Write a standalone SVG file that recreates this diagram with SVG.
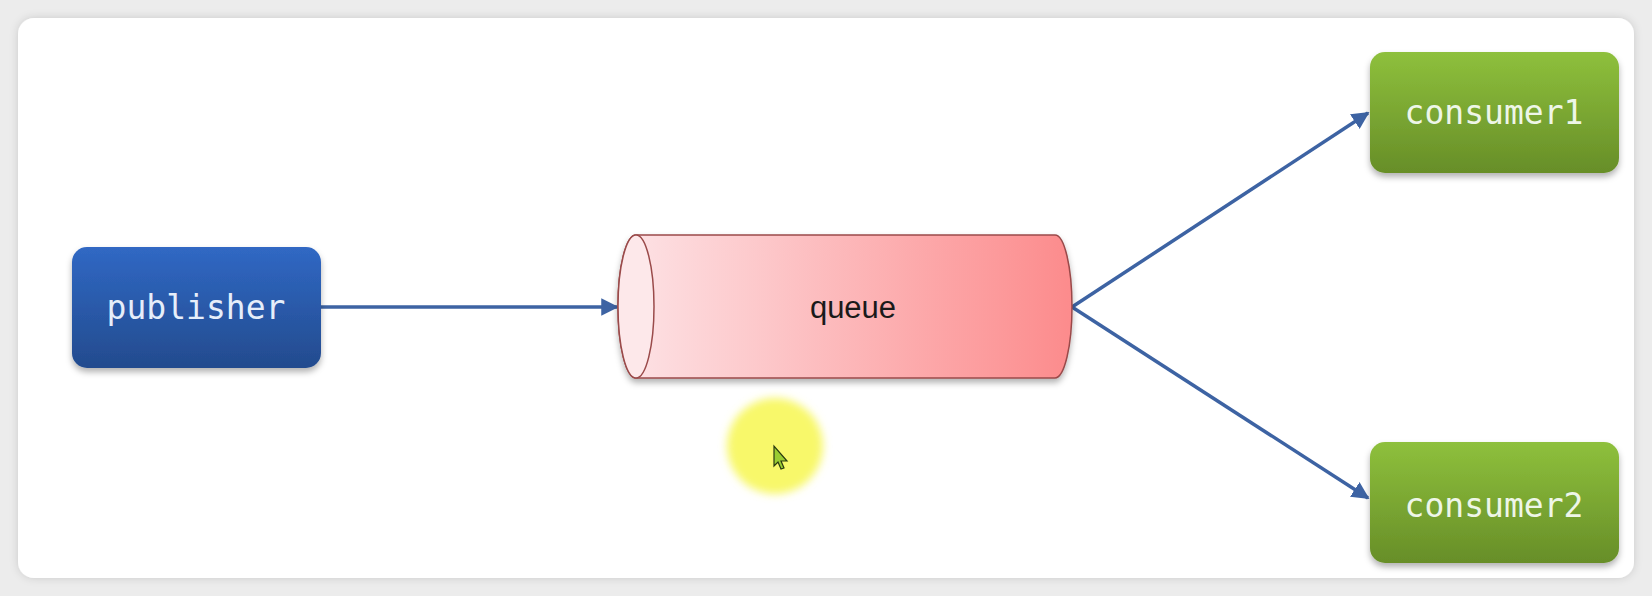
<svg xmlns="http://www.w3.org/2000/svg" width="1652" height="596" viewBox="0 0 1652 596">
<defs>
<linearGradient id="gBlue" x1="0" y1="0" x2="0" y2="1"><stop offset="0" stop-color="#3068c4"/><stop offset="1" stop-color="#234b8e"/></linearGradient>
<linearGradient id="gGreen" x1="0" y1="0" x2="0" y2="1"><stop offset="0" stop-color="#8ec03c"/><stop offset="1" stop-color="#678e28"/></linearGradient>
<linearGradient id="gPink" x1="0" y1="0" x2="1" y2="0"><stop offset="0" stop-color="#fde4e7"/><stop offset="1" stop-color="#fc8b8c"/></linearGradient>
<filter id="sh" x="-20%" y="-20%" width="140%" height="150%"><feDropShadow dx="0" dy="4" stdDeviation="3" flood-color="#000" flood-opacity="0.3"/></filter>
<filter id="cardsh" x="-5%" y="-5%" width="110%" height="110%"><feDropShadow dx="0" dy="0" stdDeviation="4" flood-color="#000" flood-opacity="0.15"/></filter>
<filter id="blur"><feGaussianBlur stdDeviation="4"/></filter>
<marker id="arr" viewBox="0 0 10 10" refX="9" refY="5" markerWidth="5" markerHeight="5" orient="auto" markerUnits="strokeWidth"><path d="M0,0 L10,5 L0,10 z" fill="#3d63a3"/></marker>
<style>
.lbl{font-family:"DejaVu Sans Mono","Liberation Mono",monospace;fill:#eef6e8;text-anchor:middle;font-size:33px}
.edge{stroke:#3d63a3;stroke-width:3.5;fill:none;marker-end:url(#arr)}
</style>
</defs>
<rect width="1652" height="596" fill="#ececec"/>
<rect x="18" y="18" width="1616" height="560" rx="16" fill="#fff" filter="url(#cardsh)"/>
<g id="connectors">
<line class="edge" x1="321" y1="307" x2="617" y2="307"/>
<line class="edge" x1="1072" y1="307" x2="1368" y2="113"/>
<line class="edge" x1="1072" y1="307" x2="1368" y2="498"/>
</g>
<g id="publisher">
<rect x="72" y="247" width="249" height="121" rx="15" fill="url(#gBlue)" filter="url(#sh)"/>
<text class="lbl" x="196" y="319" style="fill:#e6eefa">publisher</text>
</g>
<g id="queue">
<path d="M636,235 L1055,235 A17,71.5 0 0 1 1055,378 L636,378 A18,71.5 0 0 1 636,235 Z" fill="url(#gPink)" stroke="#9a4a4a" stroke-width="1.5" filter="url(#sh)"/>
<ellipse cx="636" cy="306.5" rx="18" ry="71.5" fill="#fde8ea" stroke="#9a4a4a" stroke-width="1.5"/>
<text x="853" y="318" font-family="'Liberation Sans',Arial,sans-serif" font-size="31" fill="#1a1a1a" text-anchor="middle">queue</text>
</g>
<g id="consumer1">
<rect x="1370" y="52" width="249" height="121" rx="15" fill="url(#gGreen)" filter="url(#sh)"/>
<text class="lbl" x="1494" y="124">consumer1</text>
</g>
<g id="consumer2">
<rect x="1370" y="442" width="249" height="121" rx="15" fill="url(#gGreen)" filter="url(#sh)"/>
<text class="lbl" x="1494" y="517">consumer2</text>
</g>
<g id="cursor">
<circle cx="775" cy="446" r="48" fill="#f8f86a" filter="url(#blur)"/>
<path d="M774,446 L774,466 L778,462 L781,469 L784,468 L781,461 L787,461 Z" fill="#9acd32" stroke="#2a3a10" stroke-width="1.2"/>
</g>
</svg>
